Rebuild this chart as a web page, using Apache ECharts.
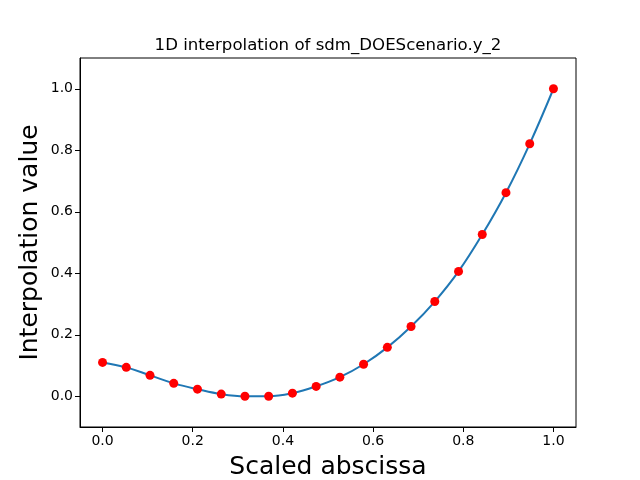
<!DOCTYPE html>
<html>
<head>
<meta charset="utf-8">
<script src="https://cdn.jsdelivr.net/npm/echarts@6/dist/echarts.min.js"></script>
<style>
  html, body { margin: 0; padding: 0; background: #fff; }
  #chart { width: 640px; height: 480px; }
</style>
</head>
<body>
<div id="chart"></div>
<script>
// sample abscissae (20 points, scaled 0..1)
const xs = [0, 0.0526, 0.1053, 0.1579, 0.2105, 0.2632, 0.3158, 0.3684, 0.4211, 0.4737,
            0.5263, 0.5789, 0.6316, 0.6842, 0.7368, 0.7895, 0.8421, 0.8947, 0.9474, 1.0];
// interpolation values
const ys = [0.110, 0.094, 0.068, 0.042, 0.023, 0.007, 0.000, 0.000, 0.010, 0.032,
            0.062, 0.104, 0.159, 0.227, 0.308, 0.406, 0.526, 0.662, 0.821, 1.000];
const xTicks = [0, 0.2, 0.4, 0.6, 0.8, 1.0];
const yTicks = [0, 0.2, 0.4, 0.6, 0.8, 1.0];

const pts = xs.map((x, i) => [x, ys[i]]);
const font = "DejaVu Sans";

const chart = echarts.init(document.getElementById("chart"), null, { renderer: "canvas" });

chart.setOption({
  animation: false,
  backgroundColor: "#fff",
  title: {
    text: "1D interpolation of sdm_DOEScenario.y_2",
    left: 323, top: 32, textAlign: "center",
    textStyle: { fontFamily: font, fontSize: 16.6, fontWeight: "normal", color: "#000" },
  },
  grid: {
    left: 80, right: 64, top: 58, bottom: 53,
    outerBoundsMode: "none", containLabel: false,
    show: true, borderColor: "#000", borderWidth: 1, backgroundColor: "transparent",
  },
  xAxis: {
    type: "value", min: -0.05, max: 1.05,
    name: "Scaled abscissa", nameLocation: "middle", nameGap: 28,
    nameTextStyle: { fontFamily: font, fontSize: 25, color: "#000" },
    splitLine: { show: false },
    axisLine: { show: true, onZero: false, lineStyle: { color: "#000", width: 1 } },
    axisTick: { show: true, length: 5, lineStyle: { color: "#000" }, customValues: xTicks },
    axisLabel: {
      fontFamily: font, fontSize: 14, color: "#000", margin: 7,
      customValues: xTicks, formatter: v => v.toFixed(1),
    },
  },
  yAxis: {
    type: "value", min: -0.1, max: 1.1,
    name: "Interpolation value", nameLocation: "middle", nameGap: 37,
    nameMoveOverlap: false,
    nameTextStyle: { fontFamily: font, fontSize: 25, color: "#000" },
    splitLine: { show: false },
    axisLine: { show: true, onZero: false, lineStyle: { color: "#000", width: 1 } },
    axisTick: { show: true, length: 5, lineStyle: { color: "#000" }, customValues: yTicks },
    axisLabel: {
      fontFamily: font, fontSize: 14, color: "#000", margin: 7,
      customValues: yTicks, formatter: v => v.toFixed(1),
    },
  },
  series: [
    {
      type: "line", data: pts, smooth: 0.4, showSymbol: false,
      lineStyle: { color: "#1f77b4", width: 2 }, z: 2,
    },
    {
      type: "scatter", data: pts, symbol: "circle", symbolSize: 9,
      itemStyle: { color: "#ff0000", opacity: 1 }, z: 3,
    },
  ],
});
</script>
</body>
</html>
